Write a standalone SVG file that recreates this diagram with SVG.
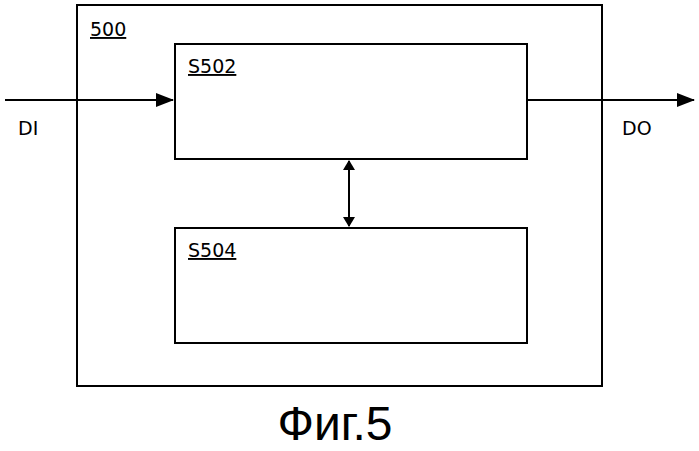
<svg xmlns="http://www.w3.org/2000/svg" width="699" height="451" viewBox="0 0 699 451">
<style>
.b{fill:none;stroke:#000;stroke-width:2}
.t{font-family:"DejaVu Sans",sans-serif;font-size:19px;fill:#000}
.u{text-decoration:underline}
.c{stroke:#000;stroke-width:2;fill:none}
</style>
<defs><marker id="a" markerWidth="10" markerHeight="12" refX="9" refY="6" orient="auto-start-reverse" markerUnits="userSpaceOnUse"><path d="M0,0L10,6L0,12Z" fill="#000"/></marker>
<marker id="m" markerWidth="18" markerHeight="14" refX="17" refY="7" orient="auto-start-reverse" markerUnits="userSpaceOnUse"><path d="M0,0L18,7L0,14Z" fill="#000"/></marker></defs>
<rect fill="#fff" width="699" height="451"/>
<g id="n500"><rect class="b" x="77" y="5" width="525" height="381"/><text class="t u" x="90" y="36">500</text></g>
<g id="s502"><rect class="b" x="175" y="44" width="352" height="115"/><text class="t u" x="188" y="73">S502</text></g>
<g id="s504"><rect class="b" x="175" y="228" width="352" height="115"/><text class="t u" x="188" y="257">S504</text></g>
<g id="conn">
<line class="c" x1="5" y1="100" x2="173" y2="100" marker-end="url(#m)"/>
<line class="c" x1="527" y1="100" x2="694" y2="100" marker-end="url(#m)"/>
<line class="c" x1="349" y1="161" x2="349" y2="226" marker-start="url(#a)" marker-end="url(#a)"/>
</g>
<text class="t" x="18" y="135">DI</text>
<text class="t" x="622" y="135">DO</text>
<text x="335" y="440" text-anchor="middle" style="font-family:'Liberation Sans',sans-serif;font-size:48px">Фиг.5</text>
</svg>
